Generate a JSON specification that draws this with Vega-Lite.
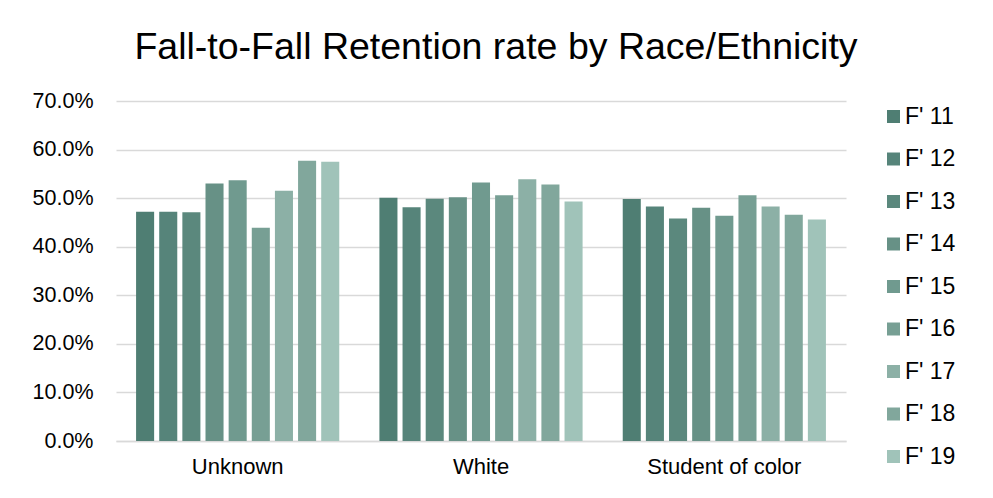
{
  "$schema": "https://vega.github.io/schema/vega-lite/v6.json",
  "autosize": {"type": "none"},
  "width": 730,
  "height": 340,
  "padding": {"left": 116, "top": 101, "right": 147, "bottom": 57},
  "background": "white",
  "title": {
    "text": "Fall-to-Fall Retention rate by Race/Ethnicity",
    "font": "Liberation Sans",
    "fontSize": 37.5,
    "fontWeight": "normal",
    "color": "#000000",
    "anchor": "middle",
    "dx": 15,
    "offset": 24
  },
  "data": {
    "values": [
      {"group": "Unknown", "year": "F' 11", "value": 0.472},
      {"group": "Unknown", "year": "F' 12", "value": 0.472},
      {"group": "Unknown", "year": "F' 13", "value": 0.471},
      {"group": "Unknown", "year": "F' 14", "value": 0.530},
      {"group": "Unknown", "year": "F' 15", "value": 0.537},
      {"group": "Unknown", "year": "F' 16", "value": 0.439},
      {"group": "Unknown", "year": "F' 17", "value": 0.515},
      {"group": "Unknown", "year": "F' 18", "value": 0.577},
      {"group": "Unknown", "year": "F' 19", "value": 0.575},
      {"group": "White", "year": "F' 11", "value": 0.501},
      {"group": "White", "year": "F' 12", "value": 0.481},
      {"group": "White", "year": "F' 13", "value": 0.499},
      {"group": "White", "year": "F' 14", "value": 0.502},
      {"group": "White", "year": "F' 15", "value": 0.532},
      {"group": "White", "year": "F' 16", "value": 0.506},
      {"group": "White", "year": "F' 17", "value": 0.539},
      {"group": "White", "year": "F' 18", "value": 0.528},
      {"group": "White", "year": "F' 19", "value": 0.493},
      {"group": "Student of color", "year": "F' 11", "value": 0.498},
      {"group": "Student of color", "year": "F' 12", "value": 0.483},
      {"group": "Student of color", "year": "F' 13", "value": 0.458},
      {"group": "Student of color", "year": "F' 14", "value": 0.480},
      {"group": "Student of color", "year": "F' 15", "value": 0.464},
      {"group": "Student of color", "year": "F' 16", "value": 0.506},
      {"group": "Student of color", "year": "F' 17", "value": 0.483},
      {"group": "Student of color", "year": "F' 18", "value": 0.466},
      {"group": "Student of color", "year": "F' 19", "value": 0.456}
    ]
  },
  "mark": {"type": "bar"},
  "encoding": {
    "x": {
      "field": "group",
      "type": "nominal",
      "sort": ["Unknown", "White", "Student of color"],
      "scale": {"paddingInner": 0.165, "paddingOuter": 0.0825},
      "axis": {
        "title": null,
        "labelAngle": 0,
        "labelFont": "Liberation Sans",
        "labelFontSize": 22,
        "labelColor": "#000000",
        "labelPadding": 15,
        "ticks": false,
        "domainColor": "#D9D9D9",
        "domainWidth": 1.5
      }
    },
    "xOffset": {
      "field": "year",
      "type": "nominal",
      "scale": {"paddingInner": 0.22, "paddingOuter": 0}
    },
    "y": {
      "field": "value",
      "type": "quantitative",
      "scale": {"domain": [0, 0.7], "nice": false},
      "axis": {
        "title": null,
        "format": ".1%",
        "values": [0, 0.1, 0.2, 0.3, 0.4, 0.5, 0.6, 0.7],
        "labelFont": "Liberation Sans",
        "labelFontSize": 21.5,
        "labelColor": "#000000",
        "labelPadding": 23,
        "ticks": false,
        "domain": false,
        "gridColor": "#D9D9D9",
        "gridWidth": 1.5
      }
    },
    "color": {
      "field": "year",
      "type": "nominal",
      "scale": {
        "domain": ["F' 11", "F' 12", "F' 13", "F' 14", "F' 15", "F' 16", "F' 17", "F' 18", "F' 19"],
        "range": ["#4F7E73", "#56847A", "#5B887D", "#679186", "#709A8F", "#779F94", "#8CB0A6", "#81A79C", "#A0C3B9"]
      },
      "legend": {
        "title": null,
        "orient": "right",
        "offset": 32,
        "padding": 4,
        "symbolType": "square",
        "symbolSize": 169,
        "symbolStrokeWidth": 0,
        "labelFont": "Liberation Sans",
        "labelFontSize": 23,
        "labelColor": "#000000",
        "labelOffset": 0,
        "rowPadding": 18.5
      }
    }
  },
  "config": {
    "view": {"stroke": null}
  }
}
